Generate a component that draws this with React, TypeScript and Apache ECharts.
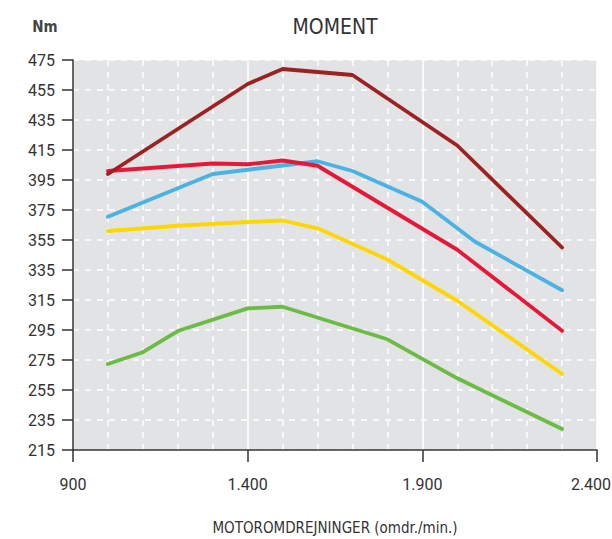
import React, { useEffect, useRef } from "react";
import * as echarts from "echarts";

const title = "MOMENT";
const unitLabel = "Nm";
const xAxisName = "MOTOROMDREJNINGER (omdr./min.)";

const yTicks = [215, 235, 255, 275, 295, 315, 335, 355, 375, 395, 415, 435, 455, 475];
const xTicks = [900, 1400, 1900, 2400];

const darkRedRpm = [1000, 1400, 1500, 1700, 2000, 2300];
const darkRedVal = [399, 459, 469, 465, 418, 350];

const redRpm = [1000, 1300, 1400, 1500, 1600, 2000, 2300];
const redVal = [401, 406, 405.5, 408, 404.5, 348.5, 294.5];

const blueRpm = [1000, 1300, 1600, 1700, 1900, 2050, 2300];
const blueVal = [370.5, 399, 407.5, 401, 380.5, 354, 321.5];

const yellowRpm = [1000, 1200, 1400, 1500, 1600, 1800, 2000, 2300];
const yellowVal = [361, 364.5, 367, 368, 362.8, 342, 314.5, 265.7];

const greenRpm = [1000, 1100, 1200, 1400, 1500, 1800, 2000, 2300];
const greenVal = [272.3, 280.2, 294.3, 309.4, 310.5, 288.8, 262.8, 229];

const pairs = (xs: number[], ys: number[]) => xs.map((x, i) => [x, ys[i]]);

const FONT = "'Liberation Sans Narrow', 'Roboto', sans-serif";
const NARROW = "'DejaVu Sans Condensed', 'Liberation Sans Narrow', 'Roboto', sans-serif";

const fmtRpm = (v: number) =>
  v >= 1000 ? `${Math.floor(v / 1000)}.${String(v % 1000).padStart(3, "0")}` : `${v}`;

export default function App() {
  const ref = useRef<HTMLDivElement>(null);
  useEffect(() => {
    if (!ref.current) return;
    const chart = echarts.init(ref.current, undefined, { renderer: "svg" });
    const mk = (name: string, color: string, xs: number[], ys: number[]) => ({
      name,
      type: "line",
      data: pairs(xs, ys),
      showSymbol: false,
      symbol: "none",
      lineStyle: { color, width: 3.8, cap: "round", join: "round" },
    });
    const xMax = xTicks[xTicks.length - 1];
    chart.setOption({
      animation: false,
      textStyle: { fontFamily: FONT },
      grid: {
        left: 73,
        right: 15,
        top: 60,
        bottom: 89,
        show: true,
        backgroundColor: "#e2e3e5",
        borderWidth: 0,
        containLabel: false,
        outerBoundsMode: "none",
      },
      graphic: [
        {
          type: "text",
          x: 335,
          y: 27,
          style: {
            text: title,
            fontFamily: NARROW,
            fontSize: 21,
            fill: "#333",
            textAlign: "center",
            textVerticalAlign: "middle",
          },
        },
        {
          type: "text",
          x: 45,
          y: 27,
          style: {
            text: unitLabel,
            fontFamily: NARROW,
            fontSize: 15,
            fontWeight: "bold",
            fill: "#444",
            textAlign: "center",
            textVerticalAlign: "middle",
          },
        },
      ],
      xAxis: {
        type: "value",
        min: xTicks[0],
        max: xMax,
        interval: 500,
        name: xAxisName,
        nameLocation: "middle",
        nameGap: 70,
        nameTextStyle: { fontSize: 15, color: "#333", fontFamily: NARROW },
        axisLine: { show: true, lineStyle: { color: "#333", width: 1.5 } },
        axisTick: { show: true, inside: false, length: 12, lineStyle: { color: "#333", width: 1.5 } },
        axisLabel: {
          fontSize: 16,
          color: "#333",
          margin: 26,
          fontFamily: FONT,
          formatter: (v: number) => (v === xMax ? `{last|${fmtRpm(v)}}` : fmtRpm(v)),
          rich: {
            last: { fontSize: 16, color: "#333", fontFamily: FONT, padding: [0, 12, 0, 0] },
          },
        },
        splitLine: { show: true, lineStyle: { color: "#ffffff", width: 1.5, type: "solid" } },
        minorTick: { show: false, splitNumber: 5 },
        minorSplitLine: { show: true, lineStyle: { color: "#ffffff", width: 1.5, type: [6, 6] } },
      },
      yAxis: {
        type: "value",
        min: yTicks[0],
        max: yTicks[yTicks.length - 1],
        interval: 20,
        axisLine: { show: true, lineStyle: { color: "#333", width: 1.5 } },
        axisTick: { show: true, inside: false, length: 11, lineStyle: { color: "#333", width: 1.5 } },
        axisLabel: { fontSize: 16, color: "#333", margin: 18, fontFamily: FONT },
        splitLine: { show: true, lineStyle: { color: "#ffffff", width: 1.5, type: [6, 6] } },
      },
      series: [
        mk("green", "#6cbb45", greenRpm, greenVal),
        mk("yellow", "#ffd600", yellowRpm, yellowVal),
        mk("blue", "#4bb2e4", blueRpm, blueVal),
        mk("red", "#e4193a", redRpm, redVal),
        mk("darkred", "#9e2121", darkRedRpm, darkRedVal),
      ],
    });
    return () => chart.dispose();
  }, []);
  return (
    <div
      ref={ref}
      style={{ position: "absolute", left: 0, top: 0, width: 612, height: 539 }}
    />
  );
}
